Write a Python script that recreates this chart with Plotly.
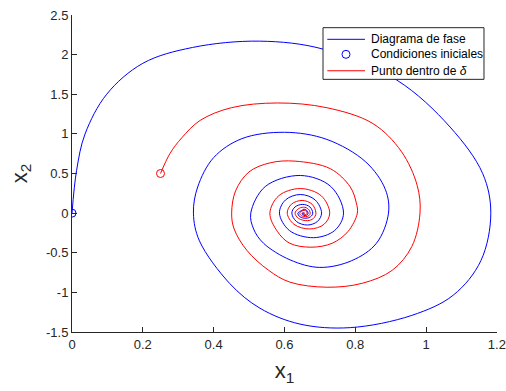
import plotly.graph_objects as go

# Trajectory 1 (blue), loop by loop
blue_x = [0.0, 0.013, 0.037, 0.098, 0.2, 0.34, 0.53, 0.709, 0.917, 1.068, 1.16, 1.183,
          1.155, 1.077, 0.96, 0.786, 0.644, 0.531, 0.446, 0.36, 0.343,
          0.355, 0.40, 0.48, 0.60, 0.72, 0.83, 0.885, 0.894, 0.86, 0.79, 0.70, 0.616,
          0.541, 0.513, 0.505,
          0.546, 0.645, 0.731, 0.767, 0.742, 0.682, 0.614, 0.586,
          0.603, 0.645, 0.687, 0.705, 0.693, 0.665, 0.634, 0.621,
          0.63, 0.652, 0.672, 0.68, 0.674, 0.66, 0.644, 0.638,
          0.65, 0.655, 0.663, 0.667, 0.665, 0.659, 0.652, 0.65, 0.657]
blue_y = [0.0, 0.54, 1.0, 1.5, 1.89, 2.09, 2.17, 2.07, 1.68, 1.086, 0.50, 0.0,
          -0.60, -1.035, -1.29, -1.445, -1.40, -1.20, -0.89, -0.35, 0.0,
          0.33, 0.70, 0.94, 1.02, 0.93, 0.645, 0.30, 0.0, -0.38, -0.60, -0.685, -0.59,
          -0.38, -0.2, 0.0,
          0.336, 0.475, 0.336, 0.0, -0.219, -0.31, -0.219, 0.0,
          0.166, 0.235, 0.166, 0.0, -0.106, -0.15, -0.106, 0.0,
          0.078, 0.11, 0.078, 0.0, -0.046, -0.065, -0.046, 0.0,
          0.035, 0.05, 0.035, 0.0, -0.02, -0.03, -0.02, 0.0, 0.0]

# Trajectory 2 (red), loop by loop
red_x = [0.25, 0.277, 0.31, 0.362, 0.45, 0.58, 0.72, 0.85, 0.93, 0.975, 0.983, 0.96,
         0.905, 0.82, 0.72, 0.615, 0.555, 0.494, 0.458, 0.451,
         0.462, 0.50, 0.56, 0.63, 0.73, 0.786, 0.803, 0.806, 0.78, 0.735, 0.675, 0.615,
         0.58, 0.559,
         0.584, 0.645, 0.704, 0.728, 0.712, 0.672, 0.627, 0.608,
         0.62, 0.65, 0.678, 0.689, 0.682, 0.665, 0.64, 0.63,
         0.639, 0.654, 0.667, 0.673, 0.669, 0.66, 0.648, 0.643,
         0.649, 0.656, 0.662, 0.664, 0.662, 0.658, 0.654, 0.651, 0.657]
red_y = [0.5, 0.754, 0.95, 1.17, 1.33, 1.39, 1.33, 1.13, 0.78, 0.35, 0.0, -0.42,
         -0.72, -0.885, -0.935, -0.87, -0.72, -0.47, -0.2, 0.0,
         0.28, 0.52, 0.635, 0.656, 0.56, 0.33, 0.13, 0.0, -0.23, -0.38, -0.43, -0.38,
         -0.23, 0.0,
         0.219, 0.31, 0.219, 0.0, -0.141, -0.2, -0.141, 0.0,
         0.113, 0.16, 0.113, 0.0, -0.067, -0.095, -0.067, 0.0,
         0.053, 0.075, 0.053, 0.0, -0.032, -0.045, -0.032, 0.0,
         0.025, 0.035, 0.025, 0.0, -0.014, -0.02, -0.014, 0.0, 0.0]

start_blue = (0.0, 0.0)
start_red = (0.25, 0.5)

x_ticks = [0, 0.2, 0.4, 0.6, 0.8, 1.0, 1.2]
x_ticktext = ["0", "0.2", "0.4", "0.6", "0.8", "1", "1.2"]
y_ticks = [-1.5, -1, -0.5, 0, 0.5, 1, 1.5, 2, 2.5]
y_ticktext = ["-1.5", "-1", "-0.5", "0", "0.5", "1", "1.5", "2", "2.5"]

legend_labels = ["Diagrama de fase", "Condiciones iniciales", "Punto dentro de <i>δ</i>"]

FONT = "Liberation Sans, Arial, Helvetica, sans-serif"
AX = "#262626"
BLUE = "#0000ff"
RED = "#ff0000"

fig = go.Figure()
fig.add_trace(go.Scatter(x=blue_x, y=blue_y, mode="lines", name=legend_labels[0],
                         showlegend=False,
                         line=dict(color=BLUE, width=1, shape="spline", smoothing=1)))
fig.add_trace(go.Scatter(x=[start_blue[0]], y=[start_blue[1]], mode="markers",
                         name=legend_labels[1], showlegend=False,
                         marker=dict(symbol="circle-open", size=8, color=BLUE,
                                     line=dict(width=1, color=BLUE))))
fig.add_trace(go.Scatter(x=red_x, y=red_y, mode="lines", name=legend_labels[2],
                         showlegend=False,
                         line=dict(color=RED, width=1, shape="spline", smoothing=1)))
fig.add_trace(go.Scatter(x=[start_red[0]], y=[start_red[1]], mode="markers",
                         showlegend=False,
                         marker=dict(symbol="circle-open", size=8, color=RED,
                                     line=dict(width=1, color=RED))))

# Legend box (MATLAB style), drawn in paper coordinates
shapes = [
    dict(type="rect", xref="paper", yref="paper", x0=0.5906, x1=0.9694, y0=0.797, y1=0.960,
         fillcolor="white", line=dict(color=AX, width=1), layer="above"),
    dict(type="line", xref="paper", yref="paper", x0=0.6007, x1=0.6894, y0=0.9233, y1=0.9233,
         line=dict(color=BLUE, width=1), layer="above"),
    dict(type="circle", xref="paper", yref="paper", xsizemode="pixel", ysizemode="pixel",
         xanchor=0.6447, yanchor=0.8759, x0=-4, x1=4, y0=-4, y1=4,
         line=dict(color=BLUE, width=1), fillcolor="rgba(0,0,0,0)", layer="above"),
    dict(type="line", xref="paper", yref="paper", x0=0.6007, x1=0.6894, y0=0.8241, y1=0.8241,
         line=dict(color=RED, width=1), layer="above"),
]
row_y = [0.9233, 0.8759, 0.8241]
annotations = [dict(text=t, xref="paper", yref="paper", x=0.6988, y=yy, xanchor="left",
                    yanchor="middle", showarrow=False,
                    font=dict(family=FONT, size=12, color="black"))
               for t, yy in zip(legend_labels, row_y)]

fig.update_layout(
    width=506, height=391,
    margin=dict(l=72, r=9, t=15, b=59),
    paper_bgcolor="white", plot_bgcolor="white",
    font=dict(family=FONT, size=13, color=AX),
    showlegend=False,
    shapes=shapes,
    annotations=annotations,
)
fig.update_xaxes(range=[0, 1.2005], tickvals=x_ticks, ticktext=x_ticktext, automargin=False,
                 showgrid=False, zeroline=False, showline=True, linecolor=AX, linewidth=1,
                 ticks="inside", ticklen=5, tickcolor=AX, tickwidth=1,
                 tickfont=dict(size=13, color=AX),
                 title=dict(text="x<sub>1</sub>", font=dict(size=22, color=AX), standoff=12))
fig.update_yaxes(range=[-1.5, 2.5], tickvals=y_ticks, ticktext=y_ticktext, automargin=False,
                 showgrid=False, zeroline=False, showline=True, linecolor=AX, linewidth=1,
                 ticks="inside", ticklen=5, tickcolor=AX, tickwidth=1,
                 tickfont=dict(size=13, color=AX),
                 title=dict(text="x<sub>2</sub>", font=dict(size=22, color=AX), standoff=12))

fig.write_html("out.html")
